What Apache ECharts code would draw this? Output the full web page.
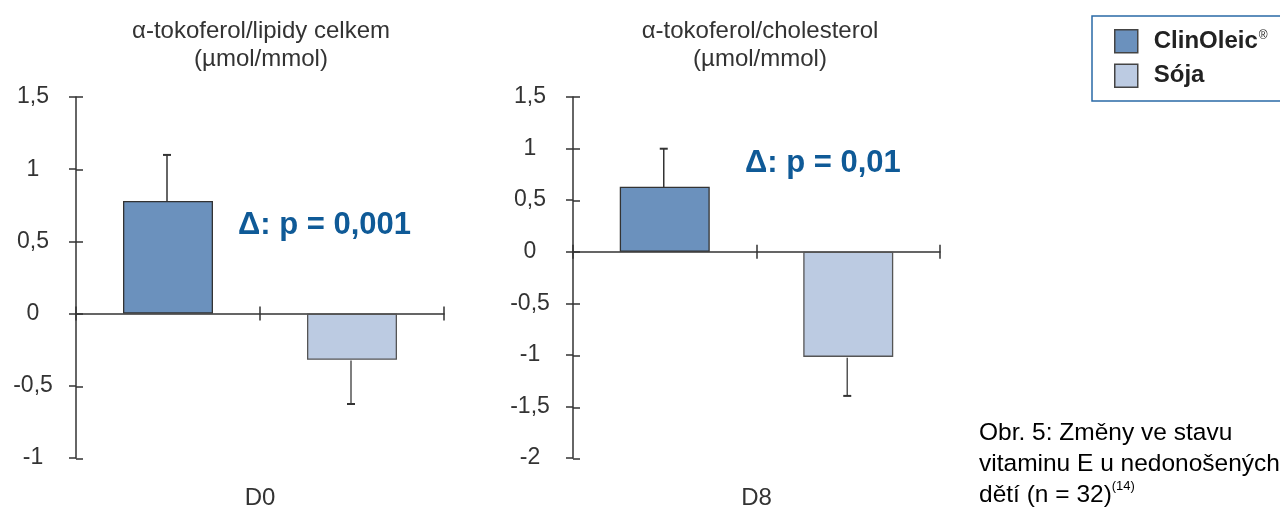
<!DOCTYPE html>
<html>
<head>
<meta charset="utf-8">
<script src="https://cdn.jsdelivr.net/npm/echarts@6/dist/echarts.min.js"></script>
<style>
html,body{margin:0;padding:0;background:#fff;}
#c{width:1280px;height:510px;}
</style>
</head>
<body>
<div id="c"></div>
<script>
// ---- data ----
const groups = ['ClinOleic', 'Sója'];
const panelCats = ['D0', 'D8'];
const panelTitles = ['\u03b1-tokoferol/lipidy celkem\n(\u00b5mol/mmol)', '\u03b1-tokoferol/cholesterol\n(\u00b5mol/mmol)'];
const pTexts = ['\u0394: p = 0,001', '\u0394: p = 0,01'];
// mean change per group, and end of one-sided error bar
const d0Means = [0.78, -0.32];
const d0ErrEnd = [1.10, -0.62];
const d8Means = [0.63, -1.02];
const d8ErrEnd = [1.00, -1.39];
const yTicks0 = ['-1', '-0,5', '0', '0,5', '1', '1,5'];
const yTicks1 = ['-2', '-1,5', '-1', '-0,5', '0', '0,5', '1', '1,5'];
const yRange0 = [-1, 1.5];
const yRange1 = [-2, 1.5];
const caption = ['Obr. 5: Změny ve stavu', 'vitaminu E u nedonošených', 'dětí (n = 32)'];
const captionRef = '(14)';

// ---- styles ----
const FONT = '"Liberation Sans", Arial, Helvetica, sans-serif';
const AX = '#333';
const colors = ['#6b91bd', '#bccbe2'];
const borders = ['#333', '#555'];
const panelRects = [
  {left: 76, top: 97, width: 368, height: 362},
  {left: 573, top: 97, width: 367, height: 362}
];

const chart = echarts.init(document.getElementById('c'), null, {renderer: 'canvas'});

const grid = [], xAxis = [], yAxis = [], series = [];
const tickStyle = {color: AX, width: 1.5};
[0, 1].forEach(g => {
  const rng = g === 0 ? yRange0 : yRange1;
  const ticks = g === 0 ? yTicks0 : yTicks1;
  const means = g === 0 ? d0Means : d8Means;
  const errs = g === 0 ? d0ErrEnd : d8ErrEnd;
  const fmt = (v, i) => ticks[i] !== undefined ? ticks[i] : String(v).replace('.', ',');
  const gMain = grid.length; grid.push(Object.assign({}, panelRects[g]));
  const gOver = grid.length; grid.push(Object.assign({}, panelRects[g]));

  // main grid axes
  const yMain = yAxis.length;
  yAxis.push({
    type: 'value', gridIndex: gMain, min: rng[0], max: rng[1], interval: 0.5, position: 'left',
    axisLine: {show: true, lineStyle: {color: AX, width: 1.5}},
    axisTick: {show: true, length: 7, lineStyle: tickStyle},
    axisLabel: {show: true, formatter: fmt, align: 'center', margin: 43,
      fontFamily: FONT, fontSize: 23, color: '#333'},
    splitLine: {show: false}
  });
  const xMain = xAxis.length;
  xAxis.push({
    type: 'category', gridIndex: gMain, data: groups, position: 'bottom',
    axisLine: {show: true, onZero: true, onZeroAxisIndex: yMain, lineStyle: {color: AX, width: 1.5}},
    axisTick: {show: true, length: 7, lineStyle: tickStyle},
    axisLabel: {show: false}, splitLine: {show: false}
  });
  xAxis.push({
    type: 'category', gridIndex: gMain, data: groups, position: 'top',
    axisLine: {show: false, onZero: true, onZeroAxisIndex: yMain},
    axisTick: {show: true, length: 7, lineStyle: tickStyle},
    axisLabel: {show: false}, splitLine: {show: false}
  });
  xAxis.push({
    type: 'category', gridIndex: gMain, data: [panelCats[g]], position: 'bottom',
    axisLine: {show: false, onZero: false}, axisTick: {show: false},
    axisLabel: {show: true, margin: 28, fontFamily: FONT, fontSize: 24, color: '#333'},
    splitLine: {show: false}
  });

  // overlay grid (same rect): inner half of the crossing y ticks + error bars
  const yOver = yAxis.length;
  yAxis.push({
    type: 'value', gridIndex: gOver, min: rng[0], max: rng[1], interval: 0.5, position: 'left',
    axisLine: {show: false, onZero: false},
    axisTick: {show: true, inside: true, length: 7, lineStyle: tickStyle},
    axisLabel: {show: false}, splitLine: {show: false}
  });
  const xOver = xAxis.length;
  xAxis.push({
    type: 'category', gridIndex: gOver, data: groups, position: 'bottom',
    axisLine: {show: false, onZero: false}, axisTick: {show: false},
    axisLabel: {show: false}, splitLine: {show: false}
  });

  groups.forEach((name, k) => {
    series.push({
      name: name, type: 'bar', xAxisIndex: xMain, yAxisIndex: yMain,
      data: groups.map((_, j) => j === k ? means[j] : '-'),
      barWidth: 90, barGap: '-100%',
      itemStyle: {color: colors[k], borderColor: borders[k], borderWidth: 1.3},
      emphasis: {disabled: true}, animation: false
    });
  });
  series.push({
    name: 'err' + g, type: 'custom', xAxisIndex: xOver, yAxisIndex: yOver,
    data: means.map((m, j) => [j, m, errs[j]]),
    encode: {x: 0, y: [1, 2]},
    renderItem: (params, api) => {
      const x = api.value(0), v = api.value(1), e = api.value(2);
      const p0 = api.coord([x, v]);
      const p1 = api.coord([x, e]);
      const c = params.dataIndex === 0 ? '#333' : '#555';
      const xx = p0[0] - 1;
      return {type: 'group', children: [
        {type: 'line', shape: {x1: xx, y1: p0[1], x2: xx, y2: p1[1]}, style: {stroke: c, lineWidth: 1.5}},
        {type: 'line', shape: {x1: xx - 4, y1: p1[1], x2: xx + 4, y2: p1[1]}, style: {stroke: '#333', lineWidth: 2}}
      ]};
    },
    z: 3, silent: true, animation: false
  });
});

const option = {
  backgroundColor: '#fff',
  animation: false,
  grid: grid,
  xAxis: xAxis,
  yAxis: yAxis,
  series: series,
  legend: {
    data: groups, orient: 'vertical', left: 1092, top: 16,
    padding: [13, 120, 13, 22], itemGap: 10, itemWidth: 23, itemHeight: 23,
    icon: 'rect', borderColor: '#2a6aa6', borderWidth: 1.5, backgroundColor: '#fff',
    itemStyle: {borderColor: '#444', borderWidth: 1.5},
    selectedMode: false,
    formatter: name => name === 'ClinOleic' ? '{n|ClinOleic}{r|\u00ae}' : '{n|' + name + '}',
    textStyle: {
      padding: [0, 0, 0, 11],
      rich: {
        n: {fontFamily: FONT, fontSize: 24, fontWeight: 'bold', color: '#222', lineHeight: 23},
        r: {fontFamily: FONT, fontSize: 12, color: '#222', verticalAlign: 'top', lineHeight: 12, padding: [0, 0, 0, 1]}
      }
    }
  },
  graphic: [
    {type: 'text', x: 261, y: 17, silent: true,
      style: {text: panelTitles[0], x: 0, y: 0, align: 'center', verticalAlign: 'top',
        font: '24px ' + FONT, fill: '#333', lineHeight: 28}},
    {type: 'text', x: 760, y: 17, silent: true,
      style: {text: panelTitles[1], x: 0, y: 0, align: 'center', verticalAlign: 'top',
        font: '24px ' + FONT, fill: '#333', lineHeight: 28}},
    {type: 'text', x: 238, y: 225, silent: true,
      style: {text: pTexts[0], align: 'left', verticalAlign: 'middle',
        font: 'bold 31px ' + FONT, fill: '#0f5a97'}},
    {type: 'text', x: 745, y: 163, silent: true,
      style: {text: pTexts[1], align: 'left', verticalAlign: 'middle',
        font: 'bold 31px ' + FONT, fill: '#0f5a97'}},
    {type: 'text', x: 979, y: 418, silent: true,
      style: {
        text: '{t|' + caption[0] + '}\n{t|' + caption[1] + '}\n{t|' + caption[2] + '}{s|' + captionRef + '}',
        align: 'left', verticalAlign: 'top',
        rich: {
          t: {fontFamily: FONT, fontSize: 24.5, color: '#333', lineHeight: 31},
          s: {fontFamily: FONT, fontSize: 13, color: '#333', verticalAlign: 'top', lineHeight: 22}
        }
      }}
  ]
};
chart.setOption(option);
</script>
</body>
</html>
